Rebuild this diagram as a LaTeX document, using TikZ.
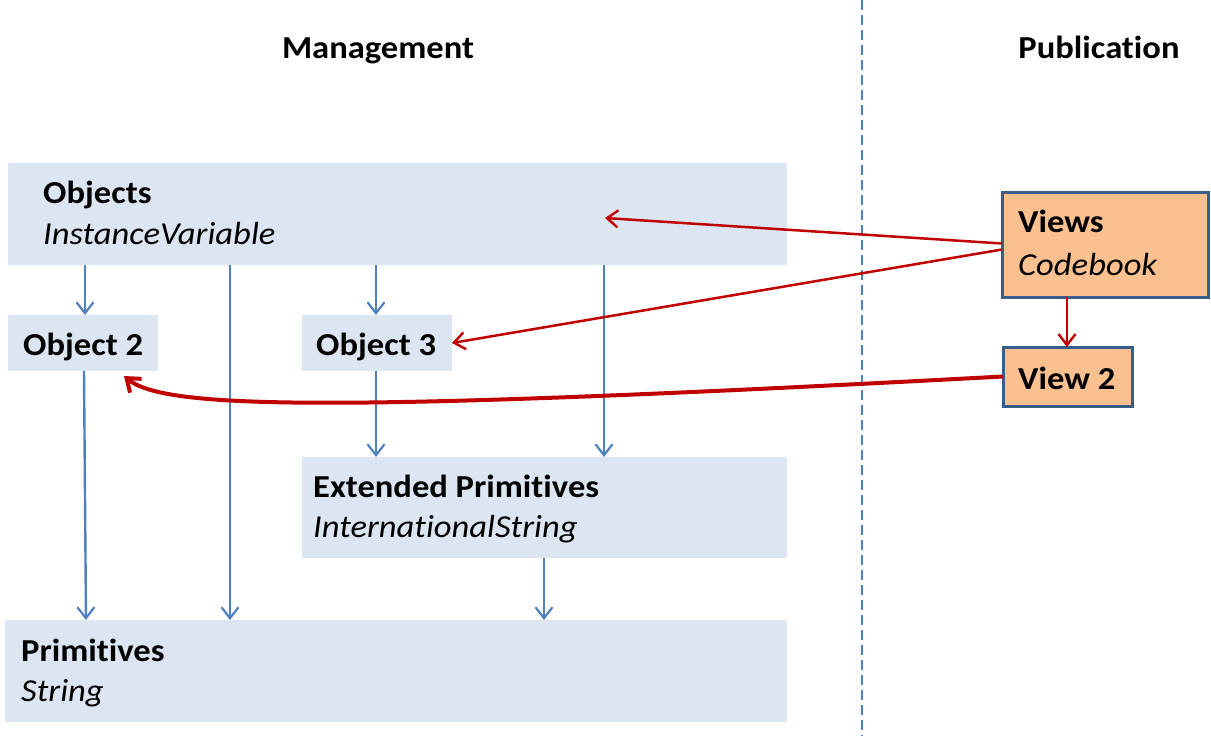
\documentclass[tikz,border=0pt]{standalone}
\usepackage{fontspec}
\setmainfont{Carlito}[Ligatures=NoCommon]
\usetikzlibrary{arrows.meta}
\definecolor{boxfill}{HTML}{DCE6F2}
\definecolor{lineblue}{HTML}{4F81BD}
\definecolor{darkred}{HTML}{C00000}
\definecolor{orangefill}{HTML}{FAC090}
\definecolor{orangeborder}{HTML}{385D8A}
\newcommand\wx[1]{\scalebox{1.08}[1]{#1}}
\begin{document}
\begin{tikzpicture}[x=1pt,y=-1pt,
  mbox/.style={fill=boxfill, draw=none, anchor=north west, inner sep=0pt, outer sep=0pt},
  vbox/.style={fill=orangefill, draw=orangeborder, line width=3pt, anchor=north west, inner sep=0pt, outer sep=0pt},
  txt/.style={anchor=base west, inner sep=0pt, font=\fontsize{32}{41}\selectfont},
  title/.style={anchor=base, inner sep=0pt, font=\fontsize{32}{41}\selectfont\bfseries},
  barrow/.style={draw=lineblue, line width=2.4pt, -{Straight Barb[length=11pt,width=17pt,line width=2.2pt]}},
  rarrow/.style={draw=darkred, line width=2.5pt, -{Straight Barb[length=11pt,width=17pt,line width=2.4pt]}},
  rthick/.style={draw=darkred, line width=4pt, -{Straight Barb[length=12pt,width=18pt,line width=4pt]}},
  divider/.style={draw=lineblue, line width=1.2pt, dash pattern=on 10pt off 5pt}
]
\useasboundingbox (0,0) rectangle (1211,736);

% divider
\coordinate (dtop) at (862,0);
\coordinate (dbot) at (862,736);
\draw[divider] (dtop) -- (dbot);

% titles
\node[title] (mgmt) at (378,58) {\wx{Management}};
\node[title] (pub) at (1099,58) {\wx{Publication}};

% management boxes
\node[mbox, minimum width=779pt, minimum height=102pt] (objects) at (8,163) {};
\node[mbox, minimum width=150pt, minimum height=56pt] (obj2) at (8,315) {};
\node[mbox, minimum width=150pt, minimum height=56pt] (obj3) at (302,315) {};
\node[mbox, minimum width=485pt, minimum height=101pt] (ext) at (302,457) {};
\node[mbox, minimum width=782pt, minimum height=102pt] (prim) at (5,620) {};

% publication boxes
\node[vbox, minimum width=206pt, minimum height=105pt] (views) at (1002,192) {};
\node[vbox, minimum width=129pt, minimum height=59pt] (view2) at (1003,347) {};

% texts
\node[txt] (objT) at (43,203) {\wx{\textbf{Objects}}};
\node[txt] (objS) at (43,244) {\wx{\textit{InstanceVariable}}};
\node[txt] (obj2T) at (23,355) {\wx{\textbf{Object 2}}};
\node[txt] (obj3T) at (316,355) {\wx{\textbf{Object 3}}};
\node[txt] (extT) at (313,497) {\wx{\textbf{Extended Primitives}}};
\node[txt] (extS) at (313,537) {\wx{\textit{InternationalString}}};
\node[txt] (primT) at (21,661) {\wx{\textbf{Primitives}}};
\node[txt] (primS) at (21,701) {\wx{\textit{String}}};
\node[txt] (viewsT) at (1018,232) {\wx{\textbf{Views}}};
\node[txt] (viewsS) at (1018,275) {\wx{\textit{Codebook}}};
\node[txt] (view2T) at (1018,389) {\wx{\textbf{View 2}}};

% blue connectors
\draw[barrow] ([xshift=77pt]objects.south west) -- ([xshift=77pt]obj2.north west);
\draw[barrow] ([xshift=222pt]objects.south west) -- ([xshift=225pt]prim.north west);
\draw[barrow] ([xshift=368pt]objects.south west) -- ([xshift=74pt]obj3.north west);
\draw[barrow] ([xshift=596pt]objects.south west) -- ([xshift=302pt]ext.north west);
\draw[barrow] ([xshift=76pt]obj2.south west) -- ([xshift=81pt]prim.north west);
\draw[barrow] ([xshift=74pt]obj3.south west) -- ([xshift=74pt]ext.north west);
\draw[barrow] ([xshift=242pt]ext.south west) -- ([xshift=539pt]prim.north west);

% red connectors
\draw[rarrow] ([yshift=1pt]views.west) -- ([xshift=597pt,yshift=-4pt]objects.west);
\draw[rarrow] ([yshift=-5pt]views.west) -- (obj3.east);
\draw[rarrow] ([xshift=65pt]views.south west) -- ([xshift=64pt]view2.north west);
\draw[rthick] (view2.west) .. controls (340,412) and (165,410) .. ([xshift=-34pt,yshift=-5pt]obj2.south east);
\end{tikzpicture}
\end{document}
